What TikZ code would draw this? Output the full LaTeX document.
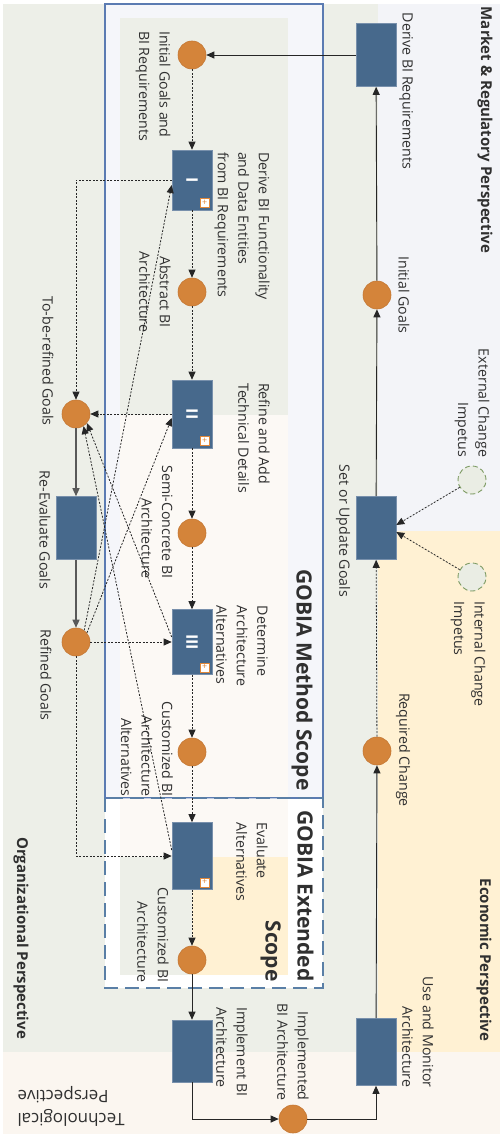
\documentclass[tikz,border=0pt]{standalone}
\usepackage{fontspec}
\setmainfont{Open Sans}
\usetikzlibrary{arrows.meta,calc}

\definecolor{orgbg}{HTML}{EDEFE8}
\definecolor{mktbg}{HTML}{F3F4F8}
\definecolor{ecobg}{HTML}{FFF1D3}
\definecolor{techbg}{HTML}{FBF6F0}
\definecolor{scopefill}{HTML}{F5F6FA}
\definecolor{scopeblue}{HTML}{5B7BB2}
\definecolor{extblue}{HTML}{5A7FA6}
\definecolor{taskfill}{HTML}{47698C}
\definecolor{taskline}{HTML}{7890AC}
\definecolor{evtfill}{HTML}{D4843A}
\definecolor{evtline}{HTML}{C47733}
\definecolor{txt}{HTML}{303030}
\definecolor{impfill}{HTML}{EAEDE4}
\definecolor{impline}{HTML}{7C9A62}
\definecolor{plusc}{HTML}{E0883A}
\definecolor{lanegreen}{HTML}{EDEFE8}
\definecolor{lanepeach}{HTML}{FCF9F5}
\definecolor{laneyellow}{HTML}{FFF1D3}

\begin{document}
\begin{tikzpicture}[x=1pt,y=-1pt,
  task/.style={draw=taskline, line width=0.6pt, fill=taskfill, minimum width=40pt, inner sep=0pt},
  evt/.style={circle, draw=evtline, line width=0.6pt, fill=evtfill, minimum size=28pt, inner sep=0pt},
  impetus/.style={circle, draw=impline, dash pattern=on 5pt off 3pt, line width=0.9pt, fill=impfill, minimum size=28pt, inner sep=0pt},
  lbl/.style={rotate=-90, text=txt, font=\fontsize{14.2}{20.5}\selectfont, inner sep=0pt},
  persp/.style={rotate=-90, text=txt, font=\fontsize{15}{18}\selectfont\bfseries, inner sep=0pt},
  techlbl/.style={rotate=180, text=txt, font=\fontsize{17}{23}\selectfont, inner sep=0pt},
  scopelbl/.style={rotate=-90, text=txt, font=\fontsize{21}{32}\selectfont\bfseries, inner sep=0pt},
  numeral/.style={rotate=-90, text=white, font=\fontsize{16}{16}\selectfont\bfseries, inner sep=0pt},
  plusbox/.style={draw=plusc, fill=white, line width=0.6pt, minimum size=9pt, inner sep=0pt, text=plusc, font=\fontsize{9}{9}\selectfont},
  flow/.style={draw=black!85, line width=0.9pt, -{Triangle[length=8pt,width=7pt]}},
  msg/.style={flow, line width=0.8pt, dash pattern=on 2pt off 1.5pt},
  goalflow/.style={flow, draw=black!65, line width=1.3pt}
]
\useasboundingbox (0,0) rectangle (500,1134);

% perspective lanes
\fill[white] (0,0) rectangle (500,1134);
\fill[orgbg] (3,4) rectangle (378,1052);
\fill[mktbg] (378,4) rectangle (500,531);
\fill[ecobg] (378,531) rectangle (500,1052);
\fill[techbg] (3,1052) rectangle (500,1134);

% GOBIA method scope
\fill[scopefill] (105,4) rectangle (323,798);
\fill[lanegreen] (120,18) rectangle (288,415);
\fill[lanepeach] (120,415) rectangle (288,798);
\draw[scopeblue, line width=1.4pt] (105,4) rectangle (323,798);

% GOBIA extended scope
\fill[white] (105,799) rectangle (323,988);
\fill[lanepeach] (120,799) rectangle (288,857);
\fill[lanegreen] (120,857) rectangle (192,975);
\fill[laneyellow] (192,857) rectangle (288,975);
\draw[scopeblue!40, line width=1pt] (120,798) -- (288,798);
\draw[extblue, line width=1.6pt, dash pattern=on 14pt off 7pt] (105,798) rectangle (323,988);

% tasks
\node[task, minimum height=63pt] (derive) at (376,55) {};
\node[task, minimum height=63pt] (setgoals) at (376,528) {};
\node[task, minimum height=67pt] (usemon) at (376,1052) {};
\node[task, minimum height=60pt] (boxI) at (192,180) {};
\node[task, minimum height=68pt] (boxII) at (192,414) {};
\node[task, minimum height=65pt] (boxIII) at (192,642) {};
\node[task, minimum height=67pt] (boxIV) at (192,856) {};
\node[task, minimum height=62pt] (implement) at (192,1051) {};
\node[task, minimum height=63pt] (reeval) at (76,528) {};

\node[numeral] (nI) at (boxI) {I};
\node[numeral] (nII) at (boxII) {II};
\node[numeral] (nIII) at (boxIII) {III};
\node[plusbox] (pI) at ($(boxI.south east)+(-7.5,-7.5)$) {+};
\node[plusbox] (pII) at ($(boxII.south east)+(-7.5,-7.5)$) {+};
\node[plusbox] (pIII) at ($(boxIII.south east)+(-7.5,-7.5)$) {+};
\node[plusbox] (pIV) at ($(boxIV.south east)+(-7.5,-7.5)$) {+};

% events
\node[evt] (initBI) at (192,55) {};
\node[evt] (abstract) at (192,292) {};
\node[evt] (semi) at (192,533) {};
\node[evt] (custalt) at (192,752) {};
\node[evt] (custarch) at (192,960) {};
\node[evt] (implemented) at (293,1119) {};
\node[evt] (initgoals) at (377,295) {};
\node[evt] (reqchange) at (377,751) {};
\node[evt] (tobe) at (76,414) {};
\node[evt] (refined) at (76,642) {};
\node[impetus] (extimp) at (472,480) {};
\node[impetus] (intimp) at (472,577) {};

% labels
\node[persp] (lblmkt) at (485,130) {Market \& Regulatory Perspective};
\node[persp] (lbleco) at (484,960) {Economic Perspective};
\node[persp] (lblorg) at (21,938) {Organizational Perspective};
\node[techlbl, align=right] (lbltech) at (71,1106) {Technological\\Perspective};
\node[scopelbl] (tScope) at (302,680) {GOBIA Method Scope};
\node[scopelbl, align=right] (tExtScope) at (287,896) {GOBIA Extended\\Scope};

\node[lbl] (tDerive) at (406,91) {Derive BI Requirements};
\node[lbl] (tInitG) at (404,295) {Initial Goals};
\node[lbl, align=right] (tExt) at (472,403) {External Change\\Impetus};
\node[lbl] (tSet) at (343,531) {Set or Update Goals};
\node[lbl, align=left] (tInt) at (468,654) {Internal Change\\Impetus};
\node[lbl] (tReq) at (403,750) {Required Change};
\node[lbl, align=right] (tUse) at (418,1032) {Use and Monitor\\Architecture};
\node[lbl, align=right] (tImpld) at (293,1052) {Implemented\\BI Architecture};
\node[lbl, align=left] (tImpl) at (232,1052) {Implement BI\\Architecture};
\node[lbl, align=right] (tCustArch) at (153,935) {Customized BI\\Architecture};
\node[lbl, align=left] (tEval) at (252,862) {Evaluate\\Alternatives};
\node[lbl, align=right] (tCustAlt) at (147,749) {Customized BI\\Architecture\\Alternatives};
\node[lbl, align=left] (tDet) at (242,646) {Determine\\Architecture\\Alternatives};
\node[lbl, align=right] (tSemi) at (157,522) {Semi-Concrete BI\\Architecture};
\node[lbl, align=left] (tRefine) at (254,438) {Refine and Add\\Technical Details};
\node[lbl, align=center] (tAbs) at (155,292) {Abstract BI\\Architecture};
\node[lbl, align=left] (tDeriveF) at (242,226) {Derive BI Functionality\\and Data Entities\\from BI Requirements};
\node[lbl, align=left] (tInitBI) at (153,86) {Initial Goals and\\BI Requirements};
\node[lbl] (tTobe) at (48,361) {To-be-refined Goals};
\node[lbl] (tReEval) at (45,530) {Re-Evaluate Goals};
\node[lbl] (tRefined) at (46,675) {Refined Goals};

% market / economic cycle
\draw[flow] (derive) -- (initBI);
\draw[flow] (initgoals) -- (derive);
\draw[flow] (setgoals) -- (initgoals);
\draw[msg] (reqchange) -- (setgoals);
\draw[flow] (usemon) -- (reqchange);
\draw[flow] (implemented) -| (usemon);
\draw[flow] (implement) |- (implemented);
\draw[msg] (extimp) -- ([yshift=3pt]setgoals.east);
\draw[msg] (intimp) -- ([yshift=-4pt]setgoals.east);

% method steps
\draw[msg] (initBI) -- (boxI);
\draw[msg] (boxI) -- (abstract);
\draw[msg] (abstract) -- (boxII);
\draw[msg] (boxII) -- (semi);
\draw[msg] (semi) -- (boxIII);
\draw[msg] (boxIII) -- (custalt);
\draw[msg] (custalt) -- (boxIV);
\draw[msg] (boxIV) -- (custarch);
\draw[flow] (custarch) -- (implement);

% goal refinement loop
\draw[goalflow] (tobe) -- (reeval);
\draw[goalflow] (reeval) -- (refined);
\draw[msg] (boxI.west) -| (tobe);
\draw[msg] (boxII) -- (tobe);
\draw[msg] ([yshift=5pt]boxIII.west) -- (tobe.-40);
\draw[msg] ([yshift=6pt]boxIV.west) -- (tobe.-58);
\draw[msg] (refined.55) -- ([yshift=-5pt]boxI.west);
\draw[msg] (refined.40) -- ([yshift=-4pt]boxII.west);
\draw[msg] (refined) -- (boxIII);
\draw[msg] (refined) |- (boxIV);
\end{tikzpicture}
\end{document}
